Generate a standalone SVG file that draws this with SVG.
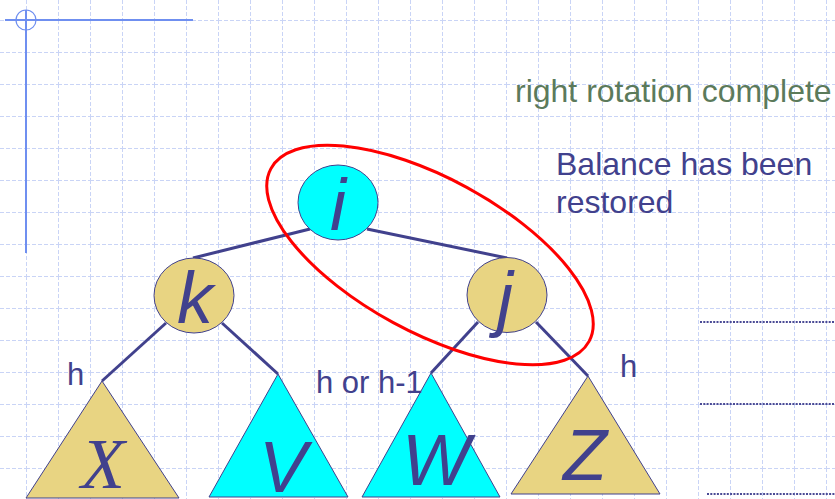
<svg xmlns="http://www.w3.org/2000/svg" width="835" height="499" viewBox="0 0 835 499">
<defs>
<pattern id="grid" x="26" y="20" width="32" height="32" patternUnits="userSpaceOnUse">
<line x1="0.5" y1="0" x2="0.5" y2="32" stroke="#c9d4f6" stroke-width="1" stroke-dasharray="4 2"/>
<line x1="0" y1="0.5" x2="32" y2="0.5" stroke="#c9d4f6" stroke-width="1" stroke-dasharray="4 2"/>
</pattern>
</defs>
<style>
.edge{stroke:#41418d;stroke-width:3;fill:none}
.node{stroke:#41418d;stroke-width:1}
.cyan{fill:#00ffff}
.tan{fill:#e8d482}
.big{font-family:"Liberation Sans",Arial,sans-serif;font-style:italic;font-size:72px;fill:#41418d;text-anchor:middle}
.serif{font-family:"Liberation Serif","Times New Roman",serif}
.lbl{font-family:"Liberation Sans",Arial,sans-serif;font-size:31px;fill:#41418d}
.note{font-size:32px}
.dots{stroke:#4a4a95;stroke-width:2;stroke-dasharray:2 1.3}
.guide{stroke:#6f8ff0;stroke-width:2}
</style>
<rect width="835" height="499" fill="#ffffff"/>
<rect width="835" height="499" fill="url(#grid)"/>
<g id="guides">
<line class="guide" x1="5" y1="20" x2="193" y2="20"/>
<line class="guide" x1="26" y1="10" x2="26" y2="253"/>
<circle cx="26" cy="20" r="10" fill="none" stroke="#6f8ff0" stroke-width="1.2"/>
<line class="dots" x1="700" y1="322" x2="835" y2="322"/>
<line class="dots" x1="700" y1="404" x2="835" y2="404"/>
<line class="dots" x1="707" y1="494" x2="835" y2="494"/>
</g>
<g id="connectors">
<line class="edge" x1="310" y1="229" x2="193" y2="258"/>
<line class="edge" x1="367" y1="229" x2="507" y2="258"/>
<line class="edge" x1="166" y1="323" x2="102" y2="381"/>
<line class="edge" x1="222" y1="323" x2="278" y2="374"/>
<line class="edge" x1="478" y1="322" x2="431" y2="373"/>
<line class="edge" x1="536" y1="322" x2="588" y2="376"/>
</g>
<g id="node-i">
<ellipse class="node cyan" cx="338" cy="202.5" rx="40" ry="37.5"/>
<text class="big" x="338" y="230">i</text>
</g>
<g id="node-k">
<ellipse class="node tan" cx="194" cy="295.5" rx="40" ry="37.5"/>
<text class="big" x="195" y="322.5">k</text>
</g>
<g id="node-j">
<ellipse class="node tan" cx="507" cy="295" rx="40" ry="37.5"/>
<text class="big" x="505" y="322.5">j</text>
</g>
<g id="tree-X">
<polygon class="node tan" points="102,381 26,498 179,498"/>
<text class="big serif" x="103" y="488">X</text>
</g>
<g id="tree-V">
<polygon class="node cyan" points="278,374 209,497 348,497"/>
<text class="big" x="283" y="491.5">V</text>
</g>
<g id="tree-W">
<polygon class="node cyan" points="431,373 362,497 500,497"/>
<text class="big" x="436" y="485">W</text>
</g>
<g id="tree-Z">
<polygon class="node tan" points="588,376 511,494 660,494"/>
<text class="big" x="585" y="480">Z</text>
</g>
<ellipse id="highlight" cx="430" cy="255" rx="181" ry="77" transform="rotate(28.5 430 255)" fill="none" stroke="#ff0000" stroke-width="3"/>
<g id="labels">
<text class="lbl" x="67" y="385">h</text>
<text class="lbl" x="316" y="393">h or h-1</text>
<text class="lbl" x="620" y="377">h</text>
<text class="lbl note" x="515" y="102" style="fill:#5b7a5b">right rotation complete</text>
<text class="lbl note" x="556" y="175">Balance has been</text>
<text class="lbl note" x="556" y="213">restored</text>
</g>
</svg>
